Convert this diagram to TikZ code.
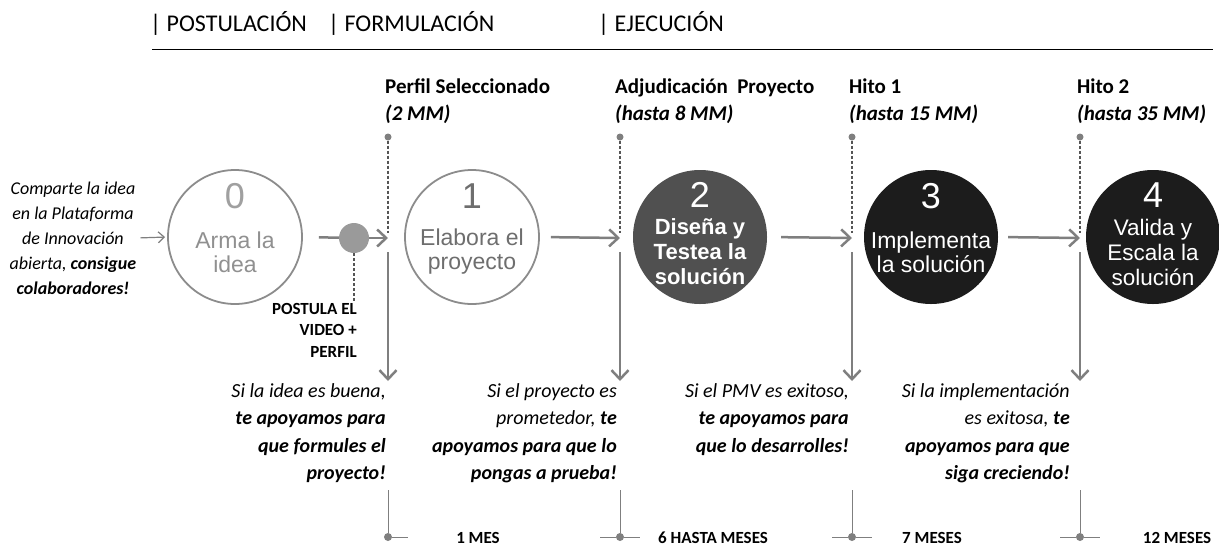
\documentclass[tikz,border=0pt]{standalone}
\usepackage{fontspec}
\setmainfont{Carlito}
\newfontfamily\arialfont{Liberation Sans}
\usetikzlibrary{arrows.meta}
\definecolor{ringgray}{HTML}{8C8C8C}
\definecolor{lightnum}{HTML}{A0A0A0}
\definecolor{midtext}{HTML}{6E6E6E}
\definecolor{darkfill}{HTML}{505050}
\definecolor{blackfill}{HTML}{1C1C1C}
\definecolor{arrowgray}{HTML}{7F7F7F}
\definecolor{dotgray}{HTML}{9A9A9A}
\definecolor{guidegray}{HTML}{555555}

\begin{document}
\begin{tikzpicture}[
  x=1pt,y=-1pt,
  phasehead/.style={anchor=base west,inner sep=0pt,font=\fontsize{24}{28}\selectfont},
  mile/.style={anchor=north west,align=left,inner sep=0pt,font=\bfseries\fontsize{21}{27}\selectfont},
  stage/.style={circle,minimum size=134pt,inner sep=0pt},
  openstage/.style={stage,draw=ringgray,line width=1.8pt,fill=white},
  num/.style={inner sep=0pt,font=\arialfont\fontsize{36}{36}\selectfont},
  stagetxt/.style={align=center,inner sep=0pt,font=\arialfont\fontsize{23}{24}\selectfont},
  flow/.style={draw=arrowgray,line width=2.5pt,-{Straight Barb[length=9pt,width=17pt]}},
  flowline/.style={draw=arrowgray,line width=2.5pt},
  guide/.style={draw=guidegray,line width=1.2pt,dash pattern=on 3pt off 2pt},
  topdot/.style={circle,fill=arrowgray,minimum size=7pt,inner sep=0pt},
  note/.style={anchor=north east,align=right,inner sep=0pt,font=\itshape\fontsize{20}{27.5}\selectfont},
  tdot/.style={circle,fill=arrowgray,minimum size=8pt,inner sep=0pt},
  timeline/.style={draw=arrowgray,line width=1pt},
  dur/.style={anchor=base,inner sep=0pt,font=\bfseries\fontsize{17}{17}\selectfont}
]
\useasboundingbox (0,0) rectangle (1219,547);

\node[phasehead] (p1) at (150,31) {| POSTULACIÓN};
\node[phasehead] (p2) at (328,31) {| FORMULACIÓN};
\node[phasehead] (p3) at (598,31) {| EJECUCIÓN};
\coordinate (hl) at (152,49);
\coordinate (hr) at (1213,49);
\draw[line width=1pt] (hl) -- (hr);

\node[mile] (m1) at (385,79) {Perfil Seleccionado\\\textit{(2 MM)}};
\node[mile] (m2) at (615,79) {Adjudicación~~Proyecto\\\textit{(hasta 8 MM)}};
\node[mile] (m3) at (849,79) {Hito 1\\\textit{(hasta 15 MM)}};
\node[mile] (m4) at (1077,79) {Hito 2\\\textit{(hasta 35 MM)}};

\foreach \n/\x in {a/388,b/620,c/852,d/1080} {
  \node[topdot] (t\n) at (\x,137) {};
  \coordinate (g\n) at (\x,233);
  \coordinate (j\n) at (\x,238);
  \coordinate (s\n) at (\x,252);
  \coordinate (e\n) at (\x,381);
  \draw[guide] (t\n) -- (g\n);
  \draw[flow] (s\n) -- (e\n);
}

\node[openstage] (c0) at (235,237) {};
\node[num,text=lightnum] at ([yshift=41pt]c0.center) {0};
\node[stagetxt,text=lightnum!90!black] at ([yshift=-15pt]c0.center) {Arma la\\idea};

\node[openstage] (c1) at (472,237) {};
\node[num,text=midtext] at ([yshift=41pt]c1.center) {1};
\node[stagetxt,text=midtext] at ([yshift=-15pt]c1.center) {Elabora el\\proyecto};

\node[stage,fill=darkfill] (c2) at (700,237) {};
\node[num,text=white] at ([yshift=42pt]c2.center) {2};
\node[stagetxt,text=white,font=\arialfont\bfseries\fontsize{22}{25}\selectfont] at ([yshift=-15pt]c2.center) {Diseña y\\Testea la\\solución};

\node[stage,fill=blackfill] (c3) at (931,237) {};
\node[num,text=white] at ([yshift=41pt]c3.center) {3};
\node[stagetxt,text=white] at ([yshift=-15pt]c3.center) {Implementa\\la solución};

\node[stage,fill=blackfill] (c4) at (1153,237) {};
\node[num,text=white] at ([yshift=42pt]c4.center) {4};
\node[stagetxt,text=white,font=\arialfont\fontsize{22.5}{25}\selectfont] at ([yshift=-15pt]c4.center) {Valida y\\Escala la\\solución};

\node[circle,fill=dotgray,minimum size=30pt,inner sep=0pt] (pd) at (354,238) {};
\coordinate (pv) at (354,302);
\draw[guide] (pd) -- (pv);
\draw[flowline,shorten <=16pt] (c0.east) -- (pd);
\draw[flow] (pd) -- (ja);
\draw[flow,shorten <=11pt] (c1.east) -- (jb);
\draw[flow,shorten <=14pt] (c2.east) -- (jc);
\draw[flow,shorten <=10pt] (c3.east) -- (jd);

\node[note,anchor=center,align=center,font=\itshape\fontsize{18}{25}\selectfont] (intro) at (73,238) {Comparte la idea\\en la Plataforma\\de Innovación\\abierta, \textbf{consigue}\\\textbf{colaboradores!}};
\draw[draw=arrowgray,line width=1.2pt,-{Straight Barb[length=6pt,width=11pt]},shorten <=4pt,shorten >=2pt] (intro.east) -- (c0.west);

\node[note,font=\bfseries\fontsize{17}{21.5}\selectfont] (post) at (357,303) {POSTULA EL\\VIDEO +\\PERFIL};

\node[note] (n1) at (386,383) {Si la idea es buena,\\\textbf{te apoyamos para}\\\textbf{que formules el}\\\textbf{proyecto!}};
\node[note] (n2) at (617,383) {Si el proyecto es\\prometedor, \textbf{te}\\\textbf{apoyamos para que lo}\\\textbf{pongas a prueba!}};
\node[note] (n3) at (849,383) {Si el PMV es exitoso,\\\textbf{te apoyamos para}\\\textbf{que lo desarrolles!}};
\node[note] (n4) at (1070,383) {Si la implementación\\es exitosa, \textbf{te}\\\textbf{apoyamos para que}\\\textbf{siga creciendo!}};

\foreach \n/\x in {a/388,b/620,c/852,d/1080} {
  \node[tdot] (b\n) at (\x,537) {};
  \coordinate (u\n) at (\x,490);
  \coordinate (r\n) at (\x+20,537);
  \draw[timeline] (b\n) -- (u\n);
  \draw[timeline] (b\n) -- (r\n);
}
\foreach \n/\x in {b/620,c/852,d/1080} {
  \coordinate (l\n) at (\x-20,537);
  \draw[timeline] (b\n) -- (l\n);
}
\node[dur] (d1) at (478,543) {1 MES};
\node[dur] (d2) at (713,543) {6 HASTA MESES};
\node[dur] (d3) at (932,543) {7 MESES};
\node[dur] (d4) at (1177,543) {12 MESES};
\end{tikzpicture}
\end{document}
